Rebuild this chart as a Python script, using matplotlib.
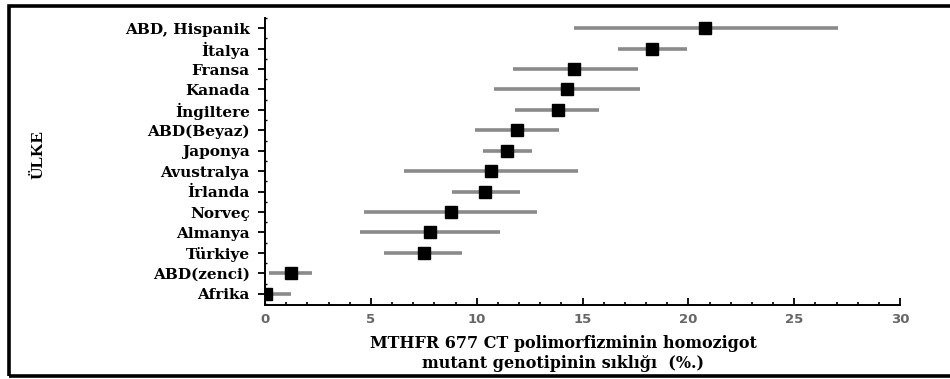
import numpy as np
import matplotlib.pyplot as plt
from matplotlib.patches import Rectangle

# ------------------------------
# data
# ------------------------------
countries = ["ABD, Hispanik", "İtalya", "Fransa", "Kanada", "İngiltere", "ABD(Beyaz)",
             "Japonya", "Avustralya", "İrlanda", "Norveç", "Almanya", "Türkiye",
             "ABD(zenci)", "Afrika"]
freq = [20.8, 18.3, 14.6, 14.25, 13.85, 11.9, 11.45, 10.7, 10.4, 8.8, 7.8, 7.5, 1.25, 0.05]
ci_low = [14.6, 16.7, 11.7, 10.8, 11.8, 9.9, 10.3, 6.55, 8.85, 4.7, 4.5, 5.6, 0.2, 0.0]
ci_high = [27.05, 19.95, 17.6, 17.7, 15.8, 13.9, 12.6, 14.8, 12.05, 12.85, 11.1, 9.3, 2.2, 1.25]
x_ticks = [0, 5, 10, 15, 20, 25, 30]

serif = "DejaVu Serif"

fig = plt.figure(figsize=(9.5, 3.79), dpi=100)
ax = fig.add_axes([265 / 950, 1 - 305 / 379, 635 / 950, 287 / 379])

ypos = np.arange(len(countries))[::-1]
ax.hlines(ypos, ci_low, ci_high, color="#8a8a8a", lw=2.6, zorder=2)
ax.plot(freq, ypos, "s", color="black", ms=8.5, zorder=3)

ax.set_xlim(0, 30)
ax.set_ylim(-0.55, len(countries) - 0.5)
ax.set_xticks(x_ticks)
ax.set_xticks(np.arange(0, 31, 1), minor=True)
ax.set_yticks(ypos)
ax.set_yticklabels(countries, fontfamily=serif, fontweight="bold", fontsize=11)
ax.set_yticks(np.arange(-0.5, len(countries), 0.5), minor=True)
ax.tick_params(axis="x", which="major", direction="in", length=5, width=1.3,
               labelsize=9.5, labelcolor="#666666", pad=6)
ax.tick_params(axis="x", which="minor", direction="in", length=2.5, width=1.2)
ax.tick_params(axis="y", which="major", direction="out", length=5, width=1.3, pad=6)
ax.tick_params(axis="y", which="minor", direction="in", length=1.5, width=1)
for lab in ax.get_xticklabels():
    lab.set_fontweight("bold")
    lab.set_fontfamily("DejaVu Sans")

for s in ["top", "right"]:
    ax.spines[s].set_visible(False)
for s in ["left", "bottom"]:
    ax.spines[s].set_linewidth(1.4)

fig.text(39 / 950, 1 - 154 / 379, "ÜLKE", rotation=90, ha="center", va="center",
         fontfamily="Liberation Serif", fontweight="bold", fontsize=12.5)
fig.text(563 / 950, 1 - 343 / 379, "MTHFR 677 CT polimorfizminin homozigot",
         ha="center", va="center", fontfamily=serif, fontweight="bold", fontsize=11.5)
fig.text(563 / 950, 1 - 363 / 379, "mutant genotipinin sıklığı  (%.)",
         ha="center", va="center", fontfamily=serif, fontweight="bold", fontsize=11.5)

# frame around the whole picture (right edge is cut off in the original)
fig.patches.append(Rectangle((8.5 / 950, 3.5 / 379), 960 / 950, 370 / 379,
                             transform=fig.transFigure, fill=False,
                             edgecolor="black", lw=2.6))

fig.savefig("out.png", dpi=100)
